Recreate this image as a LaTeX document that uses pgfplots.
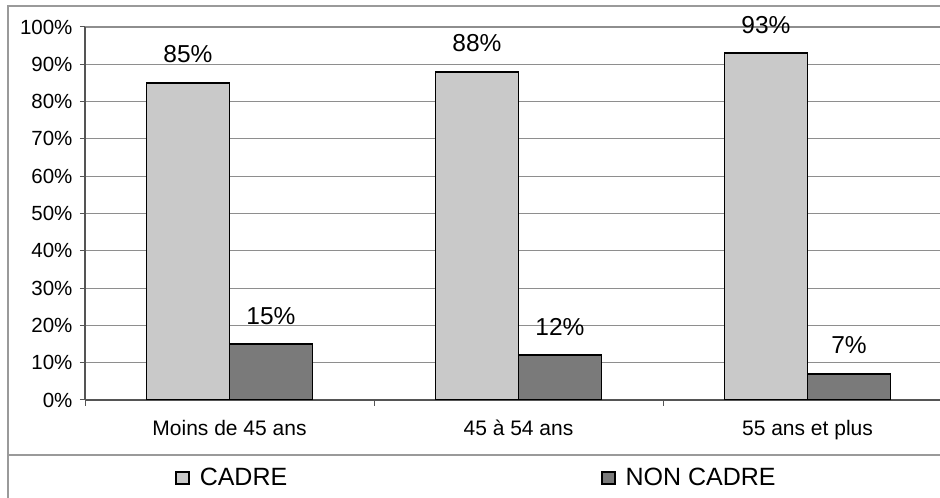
\documentclass[border=0pt]{standalone}
\usepackage{pgfplots}
\pgfplotsset{compat=1.18}
\usepackage{fontspec}
\setmainfont{Liberation Sans}
\definecolor{cadre}{HTML}{C9C9C9}
\definecolor{noncadre}{HTML}{7A7A7A}
\definecolor{gridc}{HTML}{8E8E8E}
\definecolor{framec}{HTML}{9A9A9A}
\begin{document}
\begin{tikzpicture}
\path[use as bounding box] (0pt,0pt) rectangle (940pt,498pt);
% chart frame and separator above the legend
\draw[framec, line width=1.3pt] (8pt,0pt) -- (8pt,492pt) -- (940pt,492pt);
\draw[framec, line width=1.3pt] (8pt,43pt) -- (940pt,43pt);
\begin{axis}[
  at={(85pt,98pt)}, anchor=south west,
  scale only axis, width=867pt, height=373pt,
  xmin=-0.5, xmax=2.5, ymin=0, ymax=100,
  axis x line*=bottom, axis y line*=left,
  axis line style={gridc!60!black, line width=1.2pt, -},
  ytick={0,10,...,100},
  yticklabels={0\%,10\%,20\%,30\%,40\%,50\%,60\%,70\%,80\%,90\%,100\%},
  yticklabel style={font=\fontsize{20.5}{24}\selectfont, xshift=-4pt},
  xtick={0,1,2},
  xticklabels={Moins de 45 ans,45 à 54 ans,55 ans et plus},
  xticklabel style={font=\fontsize{21}{25}\selectfont, yshift=-12pt},
  minor xtick={-0.5,0.5,1.5,2.5},
  major x tick style={draw=none},
  minor tick length=6pt, major tick length=5pt,
  tick align=outside,
  tick style={gridc!60!black, line width=1pt},
  ymajorgrids, grid style={gridc, line width=1.1pt},
  ybar, bar width=83pt,
  /pgf/number format/assume math mode=true,
  nodes near coords={\pgfmathprintnumber{\pgfplotspointmeta}\%},
  nodes near coords style={font=\fontsize{24.5}{28}\selectfont, anchor=base, inner sep=0pt, yshift=20pt, black},
  legend image code/.code={\draw[#1, line width=1.4pt] (0pt,-6pt) rectangle (13pt,6pt);},
  legend columns=2,
  legend style={at={(axis description cs:0.104,-0.209)}, anchor=west,
    draw=none, fill=none, inner sep=0pt,
    font=\fontsize{25}{30}\selectfont,
    nodes={inner sep=0pt},
    /tikz/every odd column/.append style={column sep=10pt},
    /tikz/every even column/.append style={column sep=314pt}},
  legend cell align=left,
]
\addplot[fill=cadre, draw=black, line width=1.8pt, bar shift=-41.5pt]
  coordinates {(0,85) (1,88) (2,93)};
\addplot[fill=noncadre, draw=black, line width=1.8pt, bar shift=41.5pt]
  coordinates {(0,15) (1,12) (2,7)};
\legend{CADRE, NON CADRE}
\end{axis}
\end{tikzpicture}
\end{document}
